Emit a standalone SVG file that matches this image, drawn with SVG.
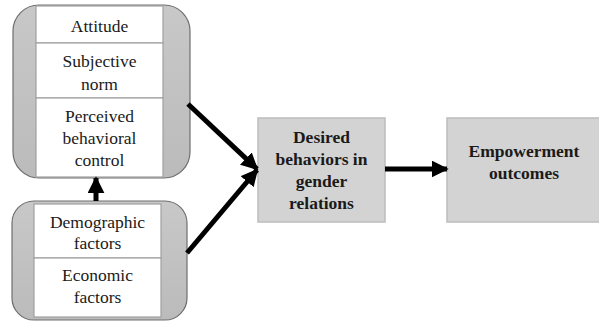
<svg xmlns="http://www.w3.org/2000/svg" width="599" height="322" viewBox="0 0 599 322">
<defs>
<linearGradient id="g" x1="0" y1="0" x2="0" y2="1">
<stop offset="0" stop-color="#c8c8c8"/>
<stop offset="1" stop-color="#bbbbbb"/>
</linearGradient>
<marker id="ah" viewBox="0 0 10 10" refX="9" refY="5" markerWidth="3.4" markerHeight="3.4" orient="auto" markerUnits="strokeWidth">
<path d="M0,0 L10,5 L0,10 Z" fill="#000"/>
</marker>
<style>
.outer{fill:url(#g);stroke:#6e6e6e;stroke-width:1.2}
.inner{fill:#fff;stroke:#a0a0a0;stroke-width:1.2}
.box{fill:#d3d3d3;stroke:#bdbdbd;stroke-width:1.5}
.t{font-size:17.5px;fill:#1a1a1a;text-anchor:middle}
.b{font-weight:bold}
.c{stroke:#000;stroke-width:5;fill:none;marker-end:url(#ah)}
</style>
</defs>
<g font-family="'Liberation Serif', 'Times New Roman', Times, 'DejaVu Serif', serif">
<g id="tpb">
<rect class="outer" x="13" y="5" width="177" height="173" rx="26" ry="26"/>
<rect class="inner" x="36" y="6" width="127" height="37"/>
<rect class="inner" x="36" y="43" width="127" height="55"/>
<rect class="inner" x="36" y="98" width="127" height="79"/>
<text class="t" x="99.5" y="32">Attitude</text>
<text class="t" x="99.5" y="67">Subjective</text>
<text class="t" x="99.5" y="90">norm</text>
<text class="t" x="99.5" y="122">Perceived</text>
<text class="t" x="99.5" y="144">behavioral</text>
<text class="t" x="99.5" y="166">control</text>
</g>
<g id="factors">
<rect class="outer" x="12" y="201" width="175" height="119" rx="22" ry="22"/>
<rect class="inner" x="34" y="204" width="127" height="54"/>
<rect class="inner" x="34" y="258" width="127" height="59"/>
<text class="t" x="97.5" y="228">Demographic</text>
<text class="t" x="97.5" y="249">factors</text>
<text class="t" x="97.5" y="281">Economic</text>
<text class="t" x="97.5" y="303">factors</text>
</g>
<g id="behaviors">
<rect class="box" x="258" y="118" width="127" height="104"/>
<text class="t b" x="321.5" y="143">Desired</text>
<text class="t b" x="321.5" y="165">behaviors in</text>
<text class="t b" x="321.5" y="187">gender</text>
<text class="t b" x="321.5" y="209">relations</text>
</g>
<g id="outcomes">
<rect class="box" x="447" y="118" width="156" height="104"/>
<text class="t b" x="524" y="157">Empowerment</text>
<text class="t b" x="524" y="179">outcomes</text>
</g>
</g>
<g id="connectors">
<line class="c" x1="96" y1="201" x2="96" y2="178"/>
<line class="c" x1="188" y1="104" x2="257" y2="169"/>
<line class="c" x1="187" y1="253" x2="257" y2="170"/>
<line class="c" x1="385" y1="169" x2="447" y2="169"/>
</g>
</svg>
